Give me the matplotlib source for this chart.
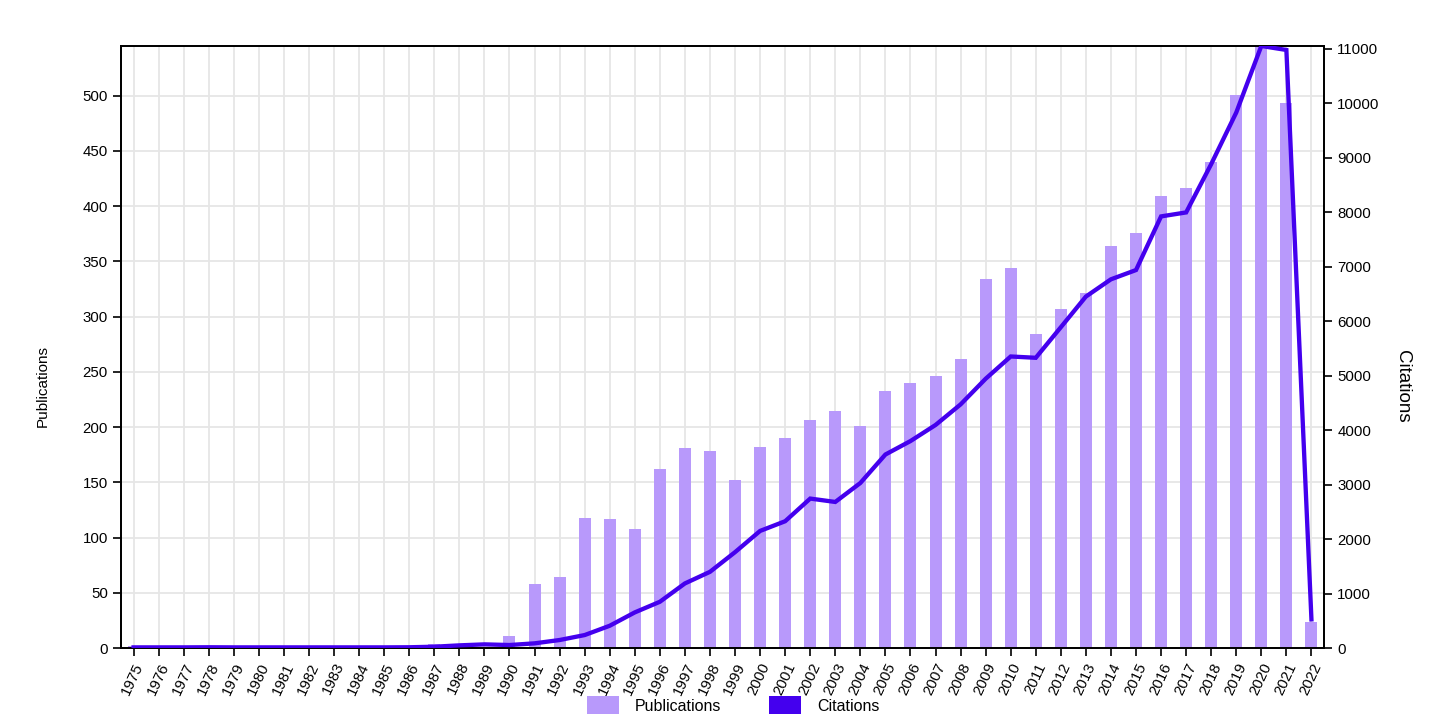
import numpy as np
import matplotlib
matplotlib.use("Agg")
import matplotlib.pyplot as plt
from matplotlib.patches import Patch

plt.rcParams['font.family'] = ['Liberation Sans', 'DejaVu Sans']

# data
years = list(range(1975, 2023))
publications = [2, 0, 0, 0, 0, 0, 0, 0, 0, 0, 0, 0, 4, 0, 0, 11,
                58, 64, 118, 117, 108, 162, 181, 178, 152, 182, 190, 206,
                215, 201, 233, 240, 246, 262, 334, 344, 284, 307, 321, 364,
                376, 409, 416, 440, 501, 545, 493, 24]
citations = [12, 12, 12, 14, 12, 12, 12, 12, 12, 12, 12, 14, 24, 49, 67, 55,
             86, 147, 238, 409, 654, 849, 1186, 1399, 1760, 2150, 2328, 2744,
             2682, 3030, 3553, 3800, 4095, 4473, 4944, 5353, 5329, 5890, 6453, 6770,
             6940, 7925, 7998, 8885, 9832, 11054, 10981, 526]

bar_color = '#b899fb'
line_color = '#4400ee'

fig = plt.figure(figsize=(14.29, 7.23), dpi=100)
ax = fig.add_axes([0.0847, 0.1037, 0.8418, 0.8327])
x = np.arange(len(years))

ax.bar(x, publications, width=0.48, color=bar_color, zorder=2)
ax.set_xlim(-0.5, len(years) - 0.5)
ax.set_ylim(0, max(publications))
ax.set_yticks(range(0, 501, 50))
ax.set_xticks(x)
ax.set_xticklabels([str(y) for y in years], rotation=65, ha='right',
                   rotation_mode='anchor', fontsize=10.8)
ax.tick_params(axis='y', labelsize=10.8, length=6, width=1.2)
ax.tick_params(axis='x', length=6, width=1.2, pad=3)
ax.set_axisbelow(True)
ax.grid(True, color='#e6e6e6', linewidth=1.3)
for s in ax.spines.values():
    s.set_linewidth(1.3)
    s.set_color('black')
ax.set_ylabel('Publications', fontsize=11)
ax.yaxis.set_label_coords(-0.0594, 0.435)

ax2 = ax.twinx()
ax2.plot(x, citations, color=line_color, linewidth=3.1, solid_joinstyle='miter', zorder=3)
ax2.set_ylim(0, max(citations))
ax2.set_yticks(range(0, 11001, 1000))
ax2.tick_params(axis='y', labelsize=10.8, length=6, width=1.2)
for s in ax2.spines.values():
    s.set_linewidth(1.3)
ax2.set_ylabel('Citations', fontsize=13.5, rotation=-90, va='center')
ax2.yaxis.set_label_coords(1.0655, 0.435)

handles = [Patch(facecolor=bar_color, label='Publications'),
           Patch(facecolor=line_color, label='Citations')]
fig.legend(handles=handles, loc='lower center', bbox_to_anchor=(0.513, -0.008),
           ncol=2, frameon=False, fontsize=11.5, handlelength=2.0, handleheight=1.35,
           columnspacing=3.0, handletextpad=1.0)

fig.savefig('out.png', dpi=100)
